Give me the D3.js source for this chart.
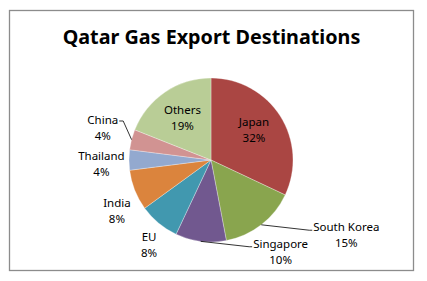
<!DOCTYPE html>
<html>
<head>
<meta charset="utf-8">
<script src="https://cdn.jsdelivr.net/npm/d3@7"></script>
<style>
  html, body { margin: 0; padding: 0; background: #fff; }
  svg { display: block; }
</style>
</head>
<body>
<div id="chart"></div>
<script>
// Chart data
const categories = ["Japan", "South Korea", "Singapore", "EU", "India", "Thailand", "China", "Others"];
const shares = [32, 15, 10, 8, 8, 4, 4, 19];
const colors = ["#AA4643", "#89A54E", "#71588F", "#4198AF", "#DB843D", "#93A9CF", "#D19392", "#B9CD96"];
const title = "Qatar Gas Export Destinations";

// Layout
const width = 427, height = 281;
const cx = 211, cy = 160, radius = 82;
const insideLabels = ["Japan", "Others"];
const leaderLabels = ["China", "South Korea", "Singapore"];
// small nudges on outside labels, like Excel's own placement
const labelNudge = {
  "Japan": [0, -3],
  "Others": [0, 0],
  "South Korea": [70, -9],
  "Singapore": [83, -14],
  "EU": [6, 3],
  "India": [5, 12],
  "Thailand": [-3, 4],
  "China": [-5, -5.5]
};

const svg = d3.select("#chart").append("svg")
  .attr("width", width)
  .attr("height", height);

// Chart frame
svg.append("rect")
  .attr("x", 9.5).attr("y", 10.5)
  .attr("width", 404).attr("height", 260)
  .attr("fill", "#fff")
  .attr("stroke", "#8c8c8c")
  .attr("stroke-width", 1.3);

// Title, sized to the original width
const titleText = svg.append("text")
  .attr("x", 211.5).attr("y", 44)
  .attr("text-anchor", "middle")
  .attr("font-family", "'Noto Sans', 'Open Sans', sans-serif")
  .attr("font-weight", "bold")
  .attr("font-size", 20)
  .attr("fill", "#000")
  .text(title);
const tw = titleText.node().getComputedTextLength();
titleText.attr("font-size", 20 * 298 / tw);

const data = categories.map((c, i) => ({ name: c, value: shares[i], color: colors[i] }));

const pie = d3.pie().sort(null).value(d => d.value);
const arcs = pie(data);

const arc = d3.arc().innerRadius(0).outerRadius(radius);
const edgeArc = d3.arc().innerRadius(radius).outerRadius(radius);
const innerLabelArc = d3.arc().innerRadius(radius * 0.62).outerRadius(radius * 0.62);
const outerLabelArc = d3.arc().innerRadius(radius * 1.3).outerRadius(radius * 1.3);

const g = svg.append("g").attr("transform", `translate(${cx},${cy})`);

// Slices
g.selectAll("path.slice")
  .data(arcs)
  .enter().append("path")
  .attr("class", "slice")
  .attr("d", arc)
  .attr("fill", d => d.data.color)
  .attr("stroke", "#fff")
  .attr("stroke-width", 0.5)
  .attr("stroke-opacity", 0.6);

// Labels
const fmt = d3.format(".0%");
const total = d3.sum(shares);

arcs.forEach(d => {
  const name = d.data.name;
  const inside = insideLabels.includes(name);
  const base = inside ? innerLabelArc.centroid(d) : outerLabelArc.centroid(d);
  const nudge = labelNudge[name] || [0, 0];
  const lx = base[0] + nudge[0];
  const ly = base[1] + nudge[1];

  const label = g.append("text")
    .attr("text-anchor", "middle")
    .attr("font-family", "'Noto Sans', 'Open Sans', sans-serif")
    .attr("font-size", 11.5)
    .attr("fill", "#000");
  label.append("tspan").attr("x", lx).attr("y", ly - 4).text(name);
  label.append("tspan").attr("x", lx).attr("y", ly + 12).text(fmt(d.data.value / total));

  if (leaderLabels.includes(name)) {
    const first = label.select("tspan").node().getComputedTextLength();
    const edge = edgeArc.centroid(d);
    const onLeft = lx < 0;
    const lineY = ly - 4 - (onLeft ? 3 : 1);
    const endX = onLeft ? lx + first / 2 + 1 : lx - first / 2 - 1;
    const bendX = onLeft ? endX + 4 : endX - 3;
    g.append("polyline")
      .attr("points", [edge, [bendX, lineY], [endX, lineY]].map(p => p.join(",")).join(" "))
      .attr("fill", "none")
      .attr("stroke", "#000")
      .attr("stroke-width", 0.8);
  }
});
</script>
</body>
</html>
